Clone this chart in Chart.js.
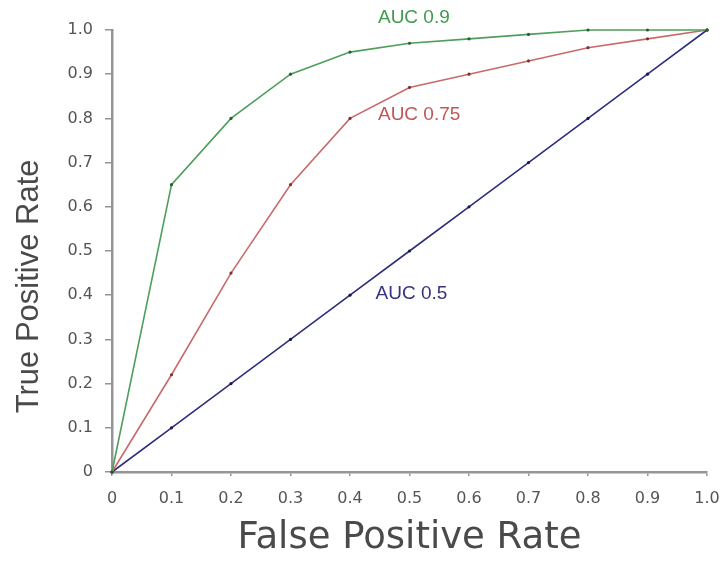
<!DOCTYPE html>
<html>
<head>
<meta charset="utf-8">
<script src="https://cdn.jsdelivr.net/npm/chart.js@4"></script>
<style>
  body { margin: 0; background: #fff; }
</style>
</head>
<body>
<canvas id="roc_chart" width="726" height="563"></canvas>
<script>
// false positive rate (x) and true positive rate (y) for each curve
let fprArr = [0, 0.1, 0.2, 0.3, 0.4, 0.5, 0.6, 0.7, 0.8, 0.9, 1.0];
let tpr90 = [0, 0.65, 0.80, 0.90, 0.95, 0.97, 0.98, 0.99, 1.0, 1.0, 1.0];
let tpr75 = [0, 0.22, 0.45, 0.65, 0.80, 0.87, 0.90, 0.93, 0.96, 0.98, 1.0];
let tpr50 = [0, 0.1, 0.2, 0.3, 0.4, 0.5, 0.6, 0.7, 0.8, 0.9, 1.0];

let curveNames = ["AUC 0.9", "AUC 0.75", "AUC 0.5"];
let tickVals = [0, 0.1, 0.2, 0.3, 0.4, 0.5, 0.6, 0.7, 0.8, 0.9, 1.0];
let yTitle = "True Positive Rate";

// where the curve names sit, in data units
let nameX = [0.447, 0.447, 0.443];
let nameY = [1.028, 0.809, 0.403];

let lineColors = ['#4f9e5c', '#c96a6a', '#2e2e7e'];
let dotColors = ['#2f5a36', '#7a3434', '#1a1a4a'];
let textColors = ['#3f9a4f', '#c25656', '#33337f'];

function toPoints(ys) {
    let pts = [];
    for (let i = 0; i < fprArr.length; i++) {
        pts.push({ x: fprArr[i], y: ys[i] });
    }
    return pts;
}

function fmt(v) {
    return v === 0 ? '0' : v.toFixed(1);
}

let curveLabels = {
    id: 'curveLabels',
    afterDatasetsDraw(chart) {
        let ctx = chart.ctx;
        let xs = chart.scales.x;
        let ys = chart.scales.y;
        ctx.save();
        ctx.font = '19px "Liberation Sans", Arial, sans-serif';
        ctx.textAlign = 'left';
        ctx.textBaseline = 'middle';
        for (let i = 0; i < curveNames.length; i++) {
            ctx.fillStyle = textColors[i];
            ctx.fillText(curveNames[i], xs.getPixelForValue(nameX[i]), ys.getPixelForValue(nameY[i]));
        }
        // y title sits a bit below the middle of the axis in the original
        ctx.font = '31px "Liberation Sans", Arial, sans-serif';
        ctx.fillStyle = '#4a4a4a';
        ctx.textAlign = 'center';
        ctx.translate(29, ys.getPixelForValue(0.42));
        ctx.rotate(-Math.PI / 2);
        ctx.fillText(yTitle, 0, 0);
        ctx.restore();
    }
};

let series = [tpr90, tpr75, tpr50];
let datasets = [];
for (let i = 0; i < series.length; i++) {
    datasets.push({
        label: curveNames[i],
        data: toPoints(series[i]),
        borderColor: lineColors[i],
        borderWidth: 1.6,
        pointRadius: 1.6,
        pointBackgroundColor: dotColors[i],
        pointBorderColor: dotColors[i],
        pointBorderWidth: 0,
        tension: 0,
        clip: false
    });
}

let ctx = document.getElementById('roc_chart');
let rocChart = new Chart(ctx, {
    type: 'line',
    data: { datasets: datasets },
    plugins: [curveLabels],
    options: {
        responsive: false,
        animation: false,
        layout: { padding: { top: 30, right: 0, left: 0, bottom: 2 } },
        plugins: {
            legend: { display: false },
            tooltip: { enabled: false }
        },
        scales: {
            x: {
                type: 'linear',
                min: 0,
                max: 1,
                afterBuildTicks: function (axis) {
                    axis.ticks = tickVals.map(v => ({ value: v }));
                },
                border: { display: true, color: '#959595', width: 2.5 },
                grid: { drawOnChartArea: false, color: '#959595', tickLength: 4, lineWidth: 1.5 },
                ticks: {
                    color: '#555',
                    padding: 13,
                    font: { family: '"DejaVu Sans", sans-serif', size: 16 },
                    callback: fmt,
                    maxRotation: 0
                },
                title: {
                    display: true,
                    text: 'False Positive Rate',
                    color: '#4a4a4a',
                    font: { family: '"DejaVu Sans", sans-serif', size: 37 },
                    padding: { top: 0, bottom: 0 }
                },
                afterFit: function (axis) {
                    axis.height = 89;
                    axis.paddingRight = 19;
                }
            },
            y: {
                type: 'linear',
                min: 0,
                max: 1,
                afterBuildTicks: function (axis) {
                    axis.ticks = tickVals.map(v => ({ value: v }));
                },
                border: { display: true, color: '#959595', width: 2.5 },
                grid: { drawOnChartArea: false, color: '#959595', tickLength: 7, lineWidth: 1.5 },
                ticks: {
                    color: '#555',
                    padding: 12,
                    font: { family: '"DejaVu Sans", sans-serif', size: 16 },
                    callback: fmt
                },
                title: { display: false },
                afterFit: function (axis) { axis.width = 112; }
            }
        }
    }
});
</script>
</body>
</html>
